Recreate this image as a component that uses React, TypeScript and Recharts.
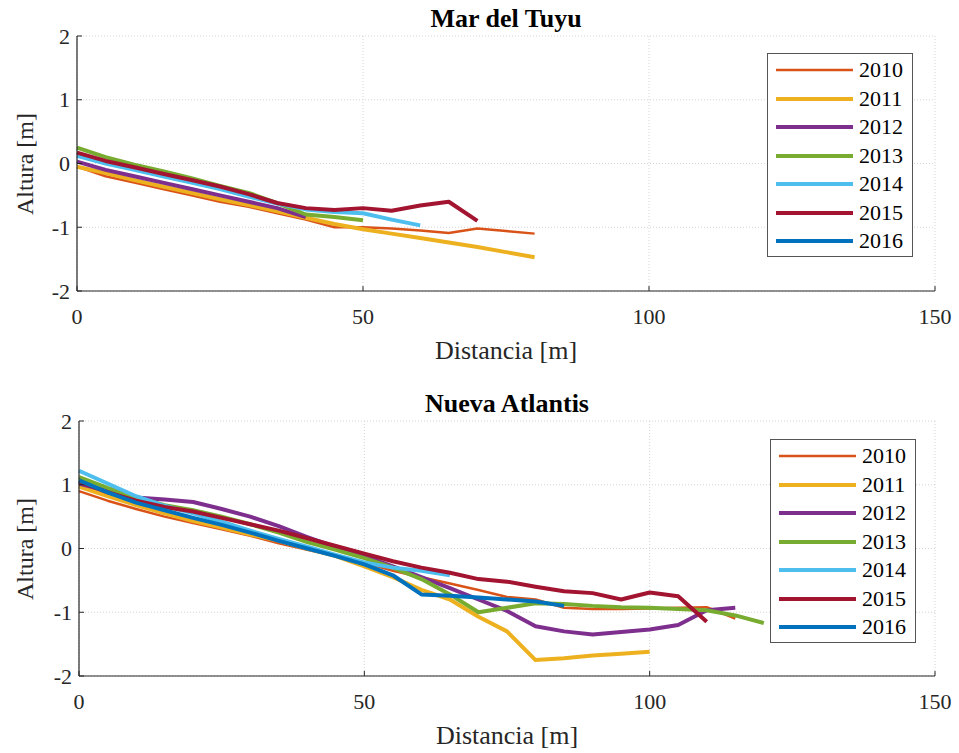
import { LineChart, Line, XAxis, YAxis, CartesianGrid } from 'recharts';

const years = ['2010', '2011', '2012', '2013', '2014', '2015', '2016'];
const colors = ['#D95319', '#EDB120', '#7E2F8E', '#77AC30', '#4DBEEE', '#A2142F', '#0072BD'];
const lineWidths = [2.5, 4, 4, 4, 4, 4, 4];

const xTicks = [0, 50, 100, 150];
const yTicks = [-2, -1, 0, 1, 2];

// distancia [m], cada 5 m
const distancias = [0, 5, 10, 15, 20, 25, 30, 35, 40, 45, 50, 55, 60, 65, 70, 75, 80, 85, 90, 95, 100, 105, 110, 115, 120];

// Mar del Tuyu
const tuyu2010 = [-0.05, -0.2, -0.3, -0.4, -0.5, -0.6, -0.68, -0.78, -0.88, -1.0, -1.0, -1.02, -1.05, -1.09, -1.02, -1.06, -1.1];
const tuyu2011 = [-0.05, -0.15, -0.26, -0.36, -0.46, -0.56, -0.65, -0.75, -0.85, -0.95, -1.03, -1.1, -1.17, -1.24, -1.31, -1.39, -1.47];
const tuyu2012 = [0.03, -0.1, -0.2, -0.3, -0.4, -0.5, -0.6, -0.7, -0.84];
const tuyu2013 = [0.25, 0.1, -0.02, -0.12, -0.23, -0.35, -0.46, -0.62, -0.8, -0.84, -0.89];
const tuyu2014 = [0.12, 0.0, -0.1, -0.2, -0.3, -0.4, -0.52, -0.63, -0.72, -0.76, -0.78, -0.88, -0.97];
const tuyu2015 = [0.17, 0.04, -0.06, -0.16, -0.26, -0.36, -0.48, -0.62, -0.7, -0.73, -0.7, -0.74, -0.66, -0.6, -0.9];
const tuyu2016: number[] = [];

// Nueva Atlantis
const nueva2010 = [0.9, 0.75, 0.62, 0.5, 0.4, 0.3, 0.2, 0.08, -0.02, -0.12, -0.22, -0.35, -0.45, -0.55, -0.65, -0.76, -0.8, -0.93, -0.95, -0.95, -0.94, -0.93, -0.92, -1.1];
const nueva2011 = [0.97, 0.82, 0.68, 0.55, 0.43, 0.33, 0.22, 0.12, 0.0, -0.12, -0.28, -0.45, -0.65, -0.8, -1.07, -1.3, -1.75, -1.72, -1.68, -1.65, -1.62];
const nueva2012 = [1.02, 0.9, 0.8, 0.77, 0.73, 0.62, 0.5, 0.35, 0.18, 0.02, -0.12, -0.28, -0.45, -0.62, -0.8, -0.98, -1.22, -1.3, -1.35, -1.31, -1.27, -1.2, -0.97, -0.93];
const nueva2013 = [1.12, 0.95, 0.8, 0.68, 0.6, 0.5, 0.38, 0.25, 0.1, -0.02, -0.15, -0.3, -0.48, -0.72, -1.0, -0.93, -0.86, -0.87, -0.9, -0.92, -0.93, -0.95, -0.97, -1.05, -1.17];
const nueva2014 = [1.22, 1.02, 0.82, 0.67, 0.55, 0.42, 0.28, 0.15, 0.03, -0.1, -0.22, -0.3, -0.35, -0.42];
const nueva2015 = [1.05, 0.88, 0.75, 0.65, 0.58, 0.48, 0.38, 0.28, 0.16, 0.04, -0.08, -0.2, -0.3, -0.38, -0.48, -0.52, -0.6, -0.67, -0.7, -0.8, -0.69, -0.75, -1.15];
const nueva2016 = [1.07, 0.88, 0.72, 0.6, 0.48, 0.37, 0.25, 0.12, 0.0, -0.12, -0.25, -0.42, -0.72, -0.74, -0.77, -0.8, -0.83, -0.9];

const toPoints = (vals: number[]) => vals.map((y, i) => ({ x: distancias[i], y }));

const FONT = "'Liberation Serif', serif";
const AXIS = '#262626';

const XTick = (props: any) => (
  <text x={props.x} y={props.y} dy="0.71em" textAnchor="middle" fontSize={22} fontFamily={FONT} fill={AXIS}>
    {props.payload.value}
  </text>
);

const YTick = (props: any) => (
  <text x={props.x} y={props.y} dy="0.35em" textAnchor="end" fontSize={22} fontFamily={FONT} fill={AXIS}>
    {props.payload.value}
  </text>
);

interface PanelProps {
  title: string;
  series: number[][];
  top: number;
  height: number;
  plotTop: number;
  plotBottom: number;
  plotLeft: number;
  legendLeft: number;
  legendTop: number;
}

function Panel({ title, series, top, height, plotTop, plotBottom, plotLeft, legendLeft, legendTop }: PanelProps) {
  const plotRight = 935;
  const midX = (plotLeft + plotRight) / 2;
  return (
    <div style={{ position: 'absolute', left: 0, top, width: 959, height }}>
      <LineChart
        width={959}
        height={height}
        margin={{ top: plotTop, right: 959 - plotRight, left: 0, bottom: 0 }}
      >
        <CartesianGrid stroke="#d4d4d4" strokeDasharray="1 2" />
        <XAxis
          type="number"
          dataKey="x"
          domain={[0, 150]}
          ticks={xTicks}
          height={height - plotBottom}
          tick={<XTick />}
          tickSize={-5}
          tickMargin={22}
          axisLine={{ stroke: AXIS, strokeWidth: 1.2 }}
          tickLine={{ stroke: AXIS }}
        />
        <YAxis
          type="number"
          domain={[-2, 2]}
          ticks={yTicks}
          width={plotLeft}
          tick={<YTick />}
          tickSize={-5}
          tickMargin={12}
          axisLine={{ stroke: AXIS, strokeWidth: 1.2 }}
          tickLine={{ stroke: AXIS }}
        />
        {series.map((vals, i) => (
          <Line
            key={years[i]}
            data={toPoints(vals)}
            dataKey="y"
            type="linear"
            stroke={colors[i]}
            strokeWidth={lineWidths[i]}
            strokeLinejoin="round"
            dot={false}
            isAnimationActive={false}
          />
        ))}
      </LineChart>

      <div style={{ position: 'absolute', left: midX - 150, width: 300, top: plotTop - 32, textAlign: 'center', fontFamily: FONT, fontWeight: 'bold', fontSize: 26, lineHeight: '30px', color: '#000' }}>
        {title}
      </div>
      <div style={{ position: 'absolute', left: midX - 150, width: 300, top: plotBottom + 45, textAlign: 'center', fontFamily: FONT, fontSize: 26, lineHeight: '30px', color: AXIS }}>
        Distancia [m]
      </div>
      <div style={{ position: 'absolute', left: 25 - 100, width: 200, top: (plotTop + plotBottom) / 2 - 14, textAlign: 'center', fontFamily: FONT, fontSize: 24, lineHeight: '28px', color: AXIS, transform: 'rotate(-90deg)' }}>
        Altura [m]
      </div>

      <div style={{ position: 'absolute', left: legendLeft, top: legendTop, width: 146, height: 204, background: '#fff', border: '1px solid #555', boxSizing: 'border-box' }}>
        {years.map((yr, i) => (
          <div key={yr} style={{ position: 'absolute', left: 8, top: 16 + i * 28.5 - 12, height: 24, width: 136 }}>
            <svg width={78} height={24} style={{ position: 'absolute', left: 0, top: 0 }}>
              <line x1={0} x2={77} y1={12} y2={12} stroke={colors[i]} strokeWidth={lineWidths[i]} />
            </svg>
            <span style={{ position: 'absolute', left: 83, top: 0, fontFamily: FONT, fontSize: 22, lineHeight: '24px', color: '#000' }}>{yr}</span>
          </div>
        ))}
      </div>
    </div>
  );
}

export default function App() {
  return (
    <div style={{ position: 'absolute', left: 0, top: 0, width: 959, height: 753, background: '#fff', overflow: 'hidden' }}>
      <Panel
        title="Mar del Tuyu"
        series={[tuyu2010, tuyu2011, tuyu2012, tuyu2013, tuyu2014, tuyu2015, tuyu2016]}
        top={0}
        height={376}
        plotTop={36}
        plotBottom={291}
        plotLeft={77}
        legendLeft={767}
        legendTop={53}
      />
      <Panel
        title="Nueva Atlantis"
        series={[nueva2010, nueva2011, nueva2012, nueva2013, nueva2014, nueva2015, nueva2016]}
        top={376}
        height={377}
        plotTop={45}
        plotBottom={300}
        plotLeft={79}
        legendLeft={770}
        legendTop={63}
      />
    </div>
  );
}
